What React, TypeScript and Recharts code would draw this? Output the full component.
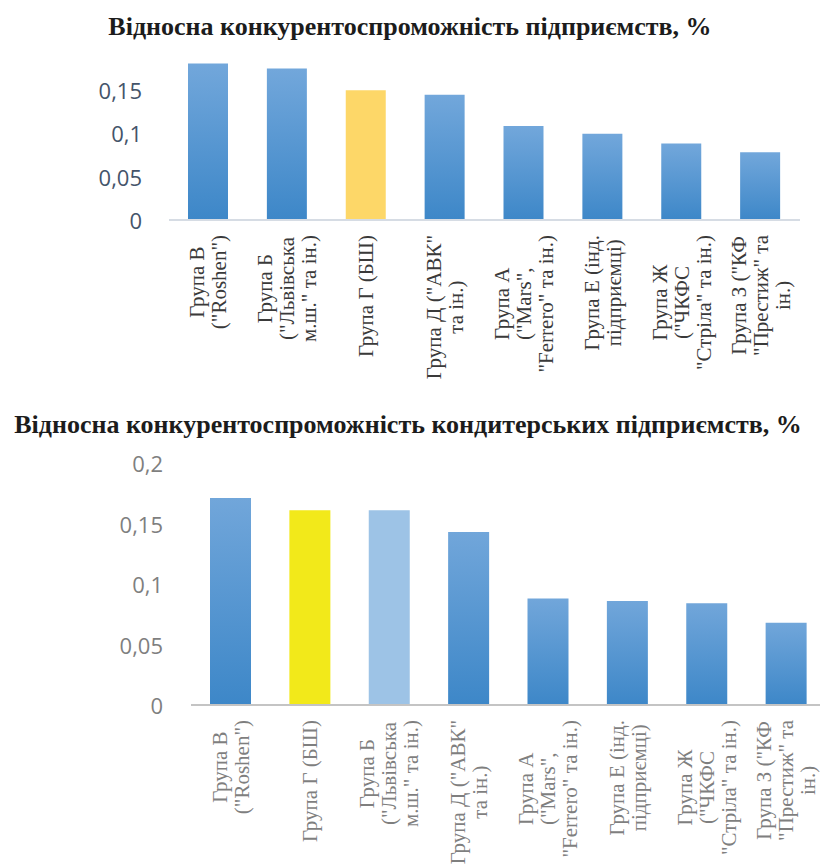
import React from "react";
import { BarChart, Bar, XAxis, YAxis, Cell } from "recharts";

// chart 1 — all groups
const categoriesTop = [
  "Група В\n(\"Roshen\")",
  "Група Б\n(\"Львівська\nм.ш.\" та ін.)",
  "Група Г (БШ)",
  "Група Д (\"АВК\"\nта ін.)",
  "Група А\n(\"Mars\",\n\"Ferrero\" та ін.)",
  "Група Е (інд.\nпідприємці)",
  "Група Ж\n(\"ЧКФС\n\"Стріла\" та ін.)",
  "Група З (\"КФ\n\"Престиж\" та\nін.)",
];
const valuesTop = [0.18, 0.174, 0.149, 0.144, 0.108, 0.099, 0.088, 0.078];
const ticksTop = [0, 0.05, 0.1, 0.15];

// chart 2 — confectionery
const categoriesBottom = [
  "Група В\n(\"Roshen\")",
  "Група Г (БШ)",
  "Група Б\n(\"Львівська\nм.ш.\" та ін.)",
  "Група Д (\"АВК\"\nта ін.)",
  "Група А\n(\"Mars\",\n\"Ferrero\" та ін.)",
  "Група Е (інд.\nпідприємці)",
  "Група Ж\n(\"ЧКФС\n\"Стріла\" та ін.)",
  "Група З (\"КФ\n\"Престиж\" та\nін.)",
];
const valuesBottom = [0.171, 0.161, 0.161, 0.143, 0.088, 0.086, 0.084, 0.068];
const ticksBottom = [0, 0.05, 0.1, 0.15, 0.2];

const titleTop = "Відносна конкурентоспроможність підприємств, %";
const titleBottom = "Відносна конкурентоспроможність кондитерських підприємств, %";

// special bar colours (everything else uses the blue gradient)
const topColors: Record<string, string> = { "Група Г (БШ)": "#fdd768" };
const bottomColors: Record<string, string> = {
  "Група Г (БШ)": "#f2e91a",
  "Група Б\n(\"Львівська\nм.ш.\" та ін.)": "#9dc3e6",
};

const dataTop = categoriesTop.map((name, i) => ({ name, value: valuesTop[i] }));
const dataBottom = categoriesBottom.map((name, i) => ({ name, value: valuesBottom[i] }));

const SERIF = "'Liberation Serif', 'Times New Roman', serif";
const LABEL_SIZE = 21;
const LABEL_FONT = `${LABEL_SIZE}px 'Liberation Serif'`;

let ctx: CanvasRenderingContext2D | null = null;
function measure(s: string) {
  if (!ctx) ctx = document.createElement("canvas").getContext("2d");
  if (!ctx) return s.length * 9;
  ctx.font = LABEL_FONT;
  return ctx.measureText(s).width;
}

const fmt = (v: number) => String(v).replace(".", ",");

// rotated, multi-line category label; lines centred on each other, block hangs under the axis
function CatTick(props: any) {
  const { x, y, payload, color } = props;
  const lines: string[] = String(payload.value).split("\n");
  const maxLen = Math.max(...lines.map(measure));
  const lh = 22;
  return (
    <g transform={`translate(${x},${y}) rotate(-90)`}>
      {lines.map((ln, i) => (
        <text
          key={i}
          x={-maxLen / 2}
          y={(i - (lines.length - 1) / 2) * lh}
          textAnchor="middle"
          dominantBaseline="central"
          style={{ fontFamily: SERIF, fontSize: LABEL_SIZE }}
          fill={color}
        >
          {ln}
        </text>
      ))}
    </g>
  );
}

function ValTick(props: any) {
  const { x, y, payload, color } = props;
  return (
    <text
      x={x}
      y={y}
      textAnchor="end"
      dominantBaseline="central"
      style={{ fontFamily: "'Open Sans', sans-serif", fontSize: 22 }}
      fill={color}
    >
      {fmt(payload.value)}
    </text>
  );
}

export default function App() {
  return (
    <div
      style={{
        position: "absolute",
        left: 0,
        top: 0,
        width: 820,
        height: 865,
        overflow: "hidden",
        background: "#fff",
      }}
    >
      <div style={{ position: "absolute", left: 0, top: 0 }}>
        <BarChart
          width={820}
          height={400}
          data={dataTop}
          margin={{ top: 46, right: 20, left: 0, bottom: 0 }}
        >
          <defs>
            <linearGradient id="blueTop" x1="0" y1="0" x2="0" y2="1">
              <stop offset="0%" stopColor="#72a7db" />
              <stop offset="100%" stopColor="#3d87c8" />
            </linearGradient>
          </defs>
          <XAxis
            dataKey="name"
            interval={0}
            height={180}
            tickSize={0}
            tickMargin={15}
            axisLine={{ stroke: "#d6dce4", strokeWidth: 2 }}
            tickLine={false}
            tick={<CatTick color="#3a3a3a" />}
          />
          <YAxis
            width={169}
            domain={[0, 0.2]}
            ticks={ticksTop}
            tickSize={0}
            tickMargin={27}
            axisLine={false}
            tickLine={false}
            tick={<ValTick color="#44546a" />}
          />
          <Bar dataKey="value" barSize={40} isAnimationActive={false}>
            {dataTop.map((d) => (
              <Cell key={d.name} fill={topColors[d.name] || "url(#blueTop)"} />
            ))}
          </Bar>
        </BarChart>
      </div>

      <div style={{ position: "absolute", left: 0, top: 400 }}>
        <BarChart
          width={826}
          height={465}
          data={dataBottom}
          margin={{ top: 63, right: 0, left: 0, bottom: 0 }}
        >
          <defs>
            <linearGradient id="blueBottom" x1="0" y1="0" x2="0" y2="1">
              <stop offset="0%" stopColor="#71a6da" />
              <stop offset="100%" stopColor="#3d87c8" />
            </linearGradient>
          </defs>
          <XAxis
            dataKey="name"
            interval={0}
            height={160}
            tickSize={0}
            tickMargin={15}
            axisLine={{ stroke: "#c4c4c4", strokeWidth: 2 }}
            tickLine={false}
            tick={<CatTick color="#7f7f7f" />}
          />
          <YAxis
            width={191}
            domain={[0, 0.2]}
            ticks={ticksBottom}
            tickSize={0}
            tickMargin={28}
            axisLine={false}
            tickLine={false}
            tick={<ValTick color="#7f7f7f" />}
          />
          <Bar dataKey="value" barSize={41} isAnimationActive={false}>
            {dataBottom.map((d) => (
              <Cell key={d.name} fill={bottomColors[d.name] || "url(#blueBottom)"} />
            ))}
          </Bar>
        </BarChart>
      </div>

      <svg
        width={820}
        height={865}
        style={{ position: "absolute", left: 0, top: 0, pointerEvents: "none" }}
      >
        <text
          x={410}
          y={35}
          textAnchor="middle"
          style={{ fontFamily: SERIF, fontWeight: 700, fontSize: 26 }}
          fill="#1c1c1c"
        >
          {titleTop}
        </text>
        <text
          x={408}
          y={433}
          textAnchor="middle"
          style={{ fontFamily: SERIF, fontWeight: 700, fontSize: 26 }}
          fill="#1c1c1c"
        >
          {titleBottom}
        </text>
      </svg>
    </div>
  );
}
